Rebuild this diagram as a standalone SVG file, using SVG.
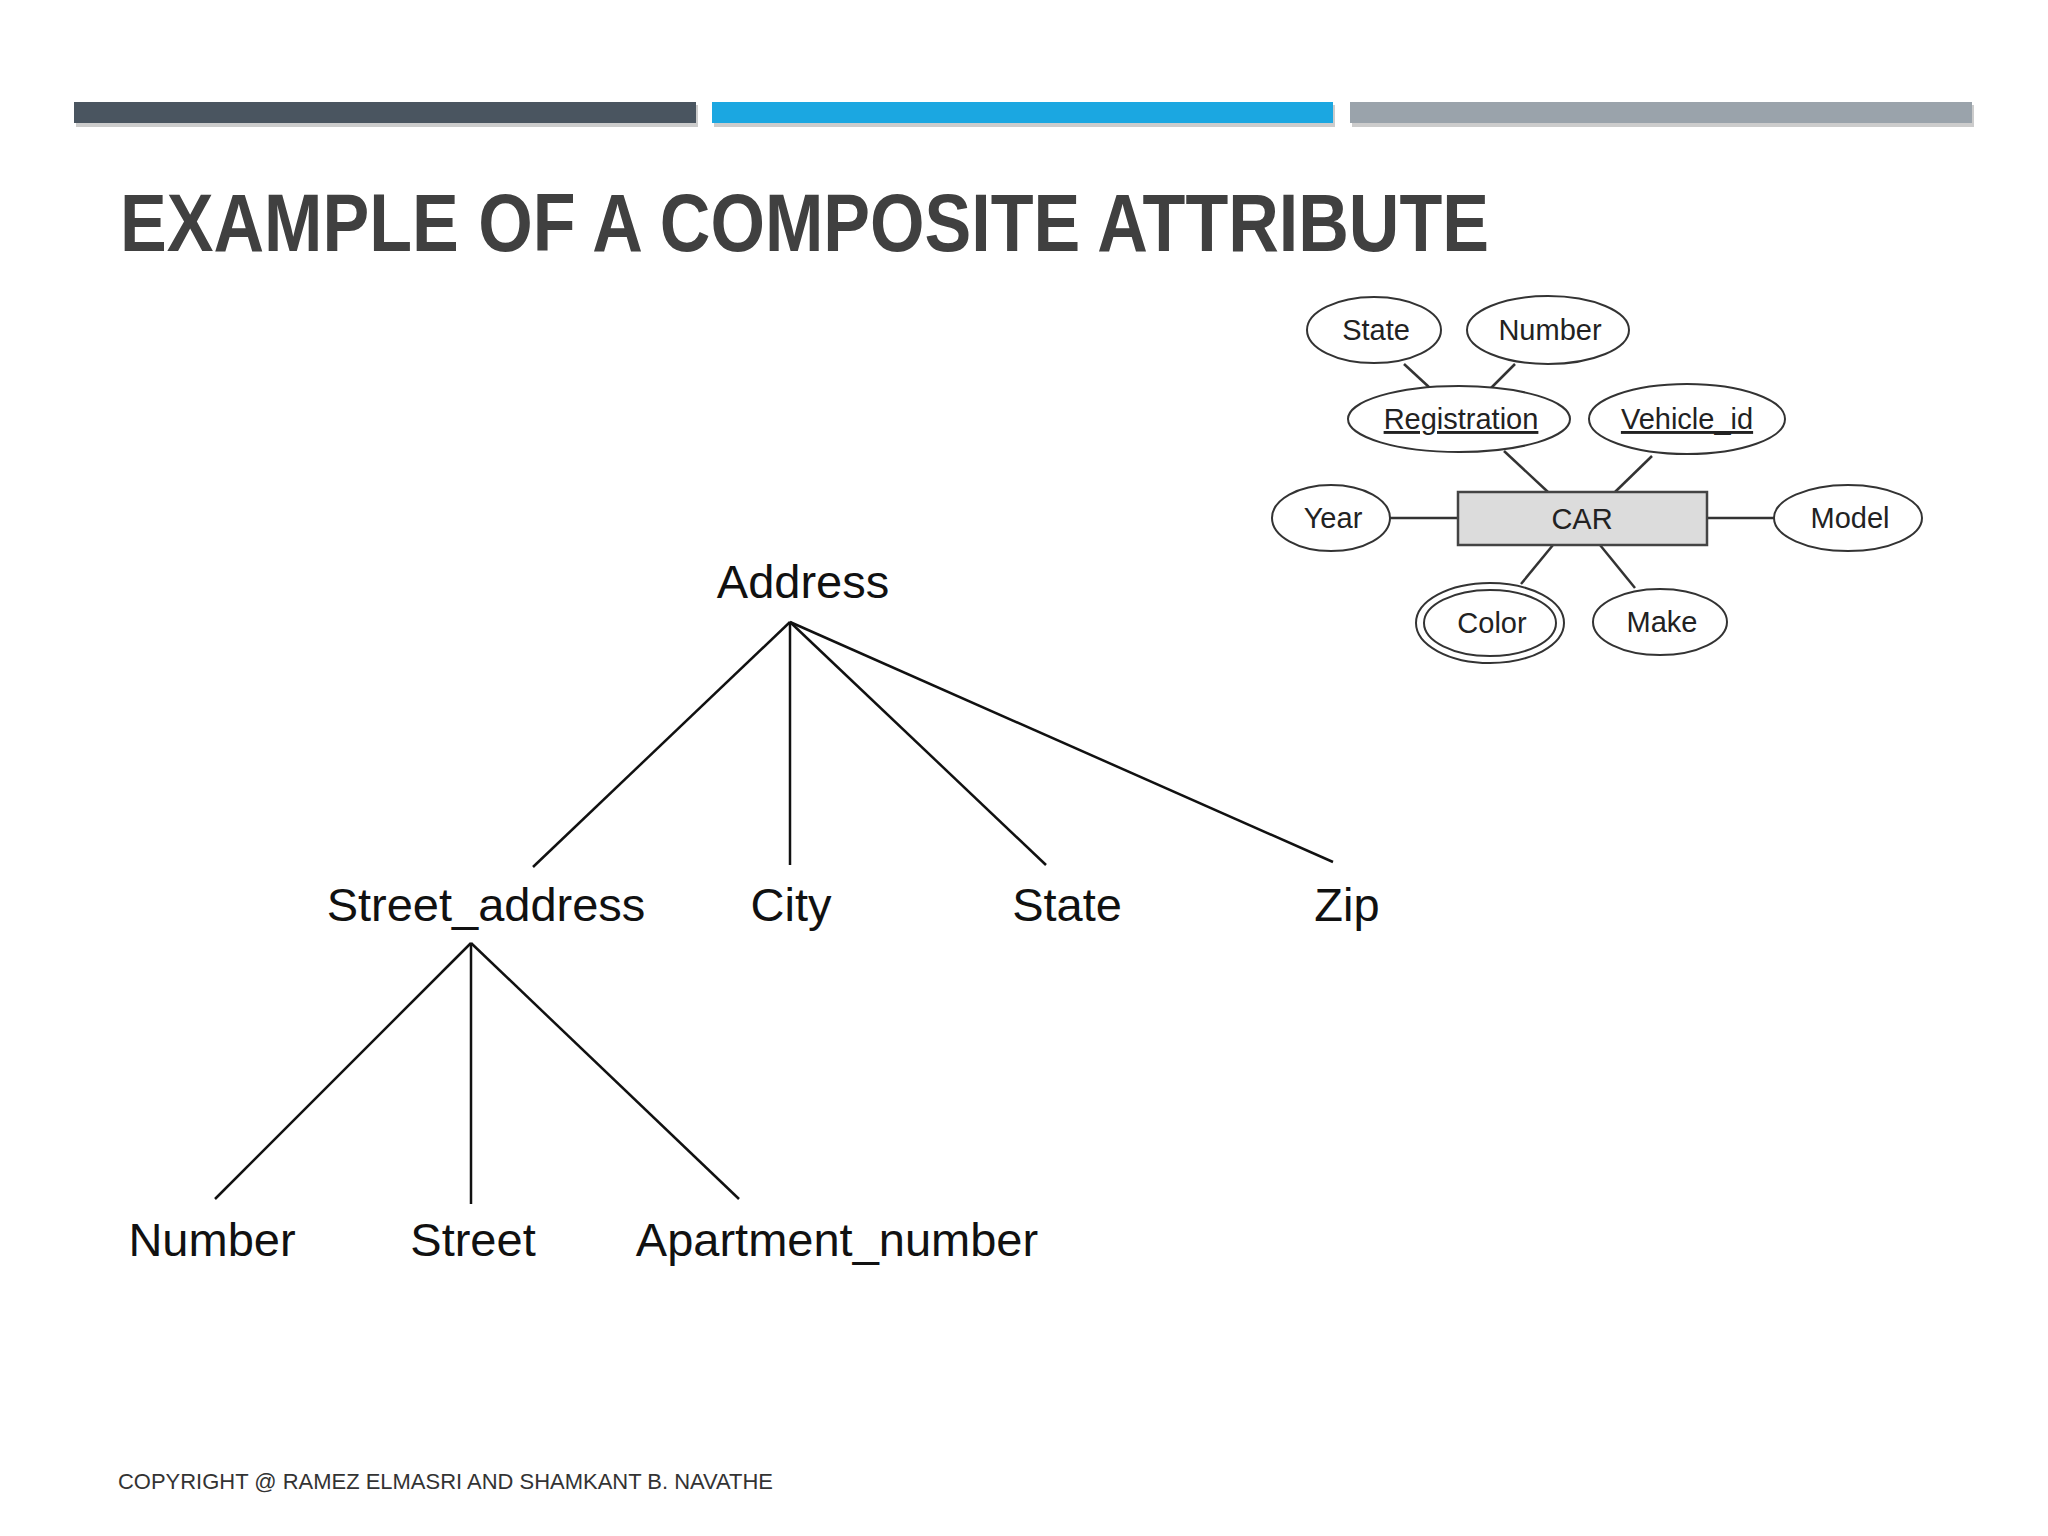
<svg xmlns="http://www.w3.org/2000/svg" width="2048" height="1536" viewBox="0 0 2048 1536">
<style>
.e{fill:#fff;stroke:#333;stroke-width:2}
.c{stroke:#333;stroke-width:2.5;fill:none}
.t{font-family:"Liberation Sans",Arial,sans-serif;fill:#222;text-anchor:middle}
.s{font-size:29px}
.b{font-size:47px;fill:#111}
</style>
<rect width="2048" height="1536" fill="#fff"/>
<g id="bars">
<rect x="76" y="105" width="622" height="22" fill="#ccc"/>
<rect x="74" y="102" width="622" height="21" fill="#4a5560"/>
<rect x="714" y="105" width="621" height="22" fill="#ccc"/>
<rect x="712" y="102" width="621" height="21" fill="#1ba7e1"/>
<rect x="1352" y="105" width="622" height="22" fill="#ccc"/>
<rect x="1350" y="102" width="622" height="21" fill="#9aa3ab"/>
</g>
<text x="120" y="251" font-family="'Liberation Sans Narrow','Liberation Sans',Arial,sans-serif" font-weight="bold" font-size="82" fill="#404040" textLength="1369" lengthAdjust="spacingAndGlyphs">EXAMPLE OF A COMPOSITE ATTRIBUTE</text>
<g id="connectors">
<g class="c">
<line x1="1404" y1="364" x2="1430" y2="388"/>
<line x1="1515" y1="364" x2="1491" y2="388"/>
<line x1="1504" y1="451" x2="1548" y2="492"/>
<line x1="1652" y1="456" x2="1615" y2="492"/>
<line x1="1390" y1="518" x2="1458" y2="518"/>
<line x1="1707" y1="518" x2="1774" y2="518"/>
<line x1="1553" y1="545" x2="1521" y2="584"/>
<line x1="1600" y1="545" x2="1635" y2="588"/>
</g>
<g stroke="#111" stroke-width="2.5" fill="none">
<line x1="790" y1="622" x2="533" y2="867"/>
<line x1="790" y1="622" x2="790" y2="865"/>
<line x1="790" y1="622" x2="1046" y2="865"/>
<line x1="790" y1="622" x2="1333" y2="862"/>
<line x1="471" y1="943" x2="215" y2="1199"/>
<line x1="471" y1="943" x2="471" y2="1204"/>
<line x1="471" y1="943" x2="739" y2="1199"/>
</g>
</g>
<g id="car"><rect x="1458" y="492" width="249" height="53" fill="#dcdcdc" stroke="#444" stroke-width="2.5"/><text class="t s" x="1582" y="529">CAR</text></g>
<g id="state1"><ellipse class="e" cx="1374" cy="330" rx="67" ry="33"/><text class="t s" x="1376" y="340">State</text></g>
<g id="number1"><ellipse class="e" cx="1548" cy="330" rx="81" ry="34"/><text class="t s" x="1550" y="340">Number</text></g>
<g id="registration"><ellipse class="e" cx="1459" cy="419" rx="111" ry="33"/><text class="t s" x="1461" y="429" text-decoration="underline">Registration</text></g>
<g id="vehicle_id"><ellipse class="e" cx="1687" cy="419" rx="98" ry="35"/><text class="t s" x="1687" y="429" text-decoration="underline">Vehicle_id</text></g>
<g id="year"><ellipse class="e" cx="1331" cy="518" rx="59" ry="33"/><text class="t s" x="1333" y="528">Year</text></g>
<g id="model"><ellipse class="e" cx="1848" cy="518" rx="74" ry="33"/><text class="t s" x="1850" y="528">Model</text></g>
<g id="color"><ellipse class="e" cx="1490" cy="623" rx="74" ry="40"/><ellipse class="e" cx="1490" cy="623" rx="66" ry="33"/><text class="t s" x="1492" y="633">Color</text></g>
<g id="make"><ellipse class="e" cx="1660" cy="622" rx="67" ry="33"/><text class="t s" x="1662" y="632">Make</text></g>
<g id="address"><text class="t b" x="803" y="598">Address</text></g>
<g id="street_address"><text class="t b" x="486" y="921">Street_address</text></g>
<g id="city"><text class="t b" x="791" y="921">City</text></g>
<g id="state2"><text class="t b" x="1067" y="921">State</text></g>
<g id="zip"><text class="t b" x="1347" y="921">Zip</text></g>
<g id="number2"><text class="t b" x="212" y="1256">Number</text></g>
<g id="street"><text class="t b" x="473" y="1256">Street</text></g>
<g id="apartment_number"><text class="t b" x="837" y="1256">Apartment_number</text></g>
<text x="118" y="1489" font-family="'Liberation Sans',Arial,sans-serif" font-size="22" fill="#333" textLength="655" lengthAdjust="spacingAndGlyphs">COPYRIGHT @ RAMEZ ELMASRI AND SHAMKANT B. NAVATHE</text>
</svg>
